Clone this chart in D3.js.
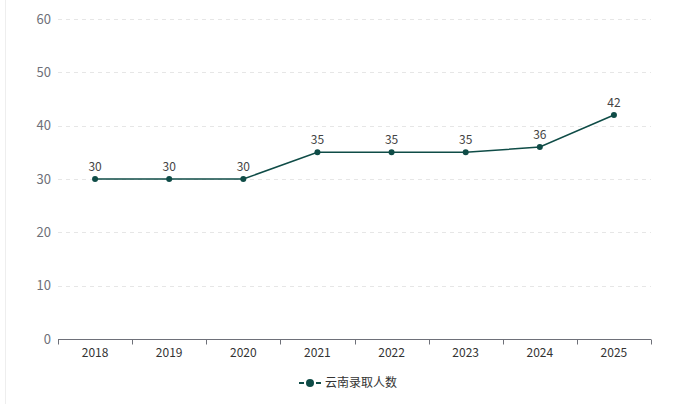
<!DOCTYPE html>
<html><head><meta charset="utf-8">
<script src="https://cdn.jsdelivr.net/npm/d3@7"></script>
<style>body{margin:0;background:#fff;}svg{display:block;font-family:"Microsoft YaHei","Noto Sans CJK SC",sans-serif;}</style>
</head><body><svg id="c" width="686" height="404"></svg>
<script>
const years = ["2018","2019","2020","2021","2022","2023","2024","2025"];
const values = [30,30,30,35,35,35,36,42];
const yTicks = [0,10,20,30,40,50,60];
const seriesName = "云南录取人数";

(function(){
const svg = d3.select("#c");
const color = "#0f4c47";
const mLeft = 58, mRight = 651, mTop = 19, mBottom = 339;

svg.append("line").attr("x1",5.5).attr("x2",5.5).attr("y1",0).attr("y2",404).attr("stroke","#eeeeee");

const x = d3.scaleBand().domain(years).range([mLeft,mRight]);
const y = d3.scaleLinear().domain([0,60]).range([mBottom,mTop]);

svg.append("g").selectAll("line").data(yTicks.filter(d=>d>0)).join("line")
  .attr("x1",mLeft).attr("x2",mRight).attr("y1",d=>Math.round(y(d))+0.5).attr("y2",d=>Math.round(y(d))+0.5)
  .attr("stroke","#e6e6e6").attr("stroke-dasharray","4,4");

svg.append("g").selectAll("text").data(yTicks).join("text")
  .attr("x",mLeft-7).attr("y",d=>y(d)).attr("dy","0.35em").attr("text-anchor","end")
  .attr("fill","#6e7079").attr("font-size",13).text(d=>d);

const xa = svg.append("g").attr("transform",`translate(0,${mBottom+0.5})`);
xa.append("line").attr("x1",mLeft).attr("x2",mRight).attr("stroke","#6e7079");
const bounds = years.map(d=>x(d)).concat([x(years[years.length-1])+x.bandwidth()]);
xa.selectAll("line.t").data(bounds).join("line").attr("class","t")
  .attr("x1",d=>Math.round(d)+0.5).attr("x2",d=>Math.round(d)+0.5).attr("y1",0).attr("y2",5).attr("stroke","#6e7079");
xa.selectAll("text").data(years).join("text")
  .attr("x",d=>x(d)+x.bandwidth()/2).attr("y",17).attr("text-anchor","middle")
  .attr("fill","#333").attr("font-size",12).text(d=>d);

const cx = d=>x(d)+x.bandwidth()/2;
const line = d3.line().x((d,i)=>cx(years[i])).y(d=>y(d));
svg.append("path").datum(values).attr("d",line).attr("fill","none").attr("stroke",color).attr("stroke-width",1.5);

svg.append("g").selectAll("circle").data(values).join("circle")
  .attr("cx",(d,i)=>cx(years[i])).attr("cy",d=>y(d)).attr("r",3).attr("fill",color);

svg.append("g").selectAll("text").data(values).join("text")
  .attr("x",(d,i)=>cx(years[i])).attr("y",d=>y(d)-8).attr("text-anchor","middle")
  .attr("fill","#444").attr("font-size",12).text(d=>d);

const lg = svg.append("g").attr("transform","translate(0,383)");
lg.append("line").attr("x1",299).attr("x2",304).attr("y1",0).attr("y2",0).attr("stroke",color).attr("stroke-width",2);
lg.append("line").attr("x1",316).attr("x2",321).attr("y1",0).attr("y2",0).attr("stroke",color).attr("stroke-width",2);
lg.append("circle").attr("cx",310).attr("cy",0).attr("r",4).attr("fill",color);
lg.append("text").attr("x",325).attr("y",0).attr("dy","0.35em").attr("fill","#333").attr("font-size",12).text(seriesName);
})();
</script></body></html>
